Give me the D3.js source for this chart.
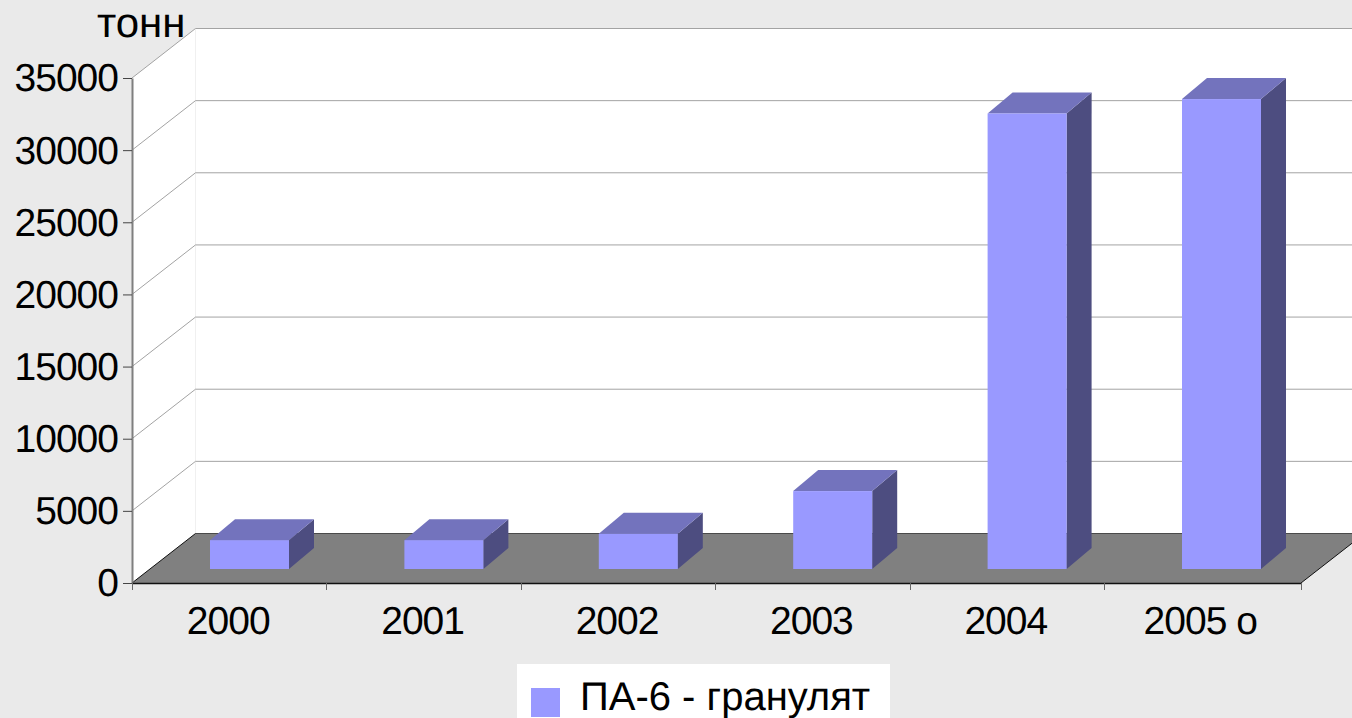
<!DOCTYPE html>
<html>
<head>
<meta charset="utf-8">
<script src="https://cdn.jsdelivr.net/npm/d3@7"></script>
<style>
  html, body { margin: 0; padding: 0; background: #eaeaea; overflow: hidden; }
  svg { display: block; font-family: "Liberation Sans", Arial, sans-serif; text-rendering: geometricPrecision; }
</style>
</head>
<body>
<svg id="chart" width="1352" height="718"></svg>
<script>
const years = ['2000', '2001', '2002', '2003', '2004', '2005 о'];
const tonnes = [2000, 2000, 2450, 5400, 31570, 32570];
const yTicks = [0, 5000, 10000, 15000, 20000, 25000, 30000, 35000];
const unitLabel = 'тонн';
const seriesName = 'ПА-6 - гранулят';

const width = 1352;
const height = 718;
const margin = {left: 132, right: 53.6, top: 78, bottom: 135};
const fontSize = 39;
const digitSpacing = '-1px';

// Depth of the 3D box and of the bars, in pixels
const box = {right: 1301, dx: 63.5, dy: -49.5};
const bar = {dx: 25, dy: -21, offsetX: 20.3, offsetY: -14, width: 79};

const colors = {
  background: '#eaeaea',
  wall: '#ffffff',
  grid: '#a3a3a3',
  floor: '#808080',
  axis: '#7f7f7f',
  face: '#9999ff',
  top: '#7373bd',
  side: '#4d4d80',
};

const svg = d3.select('#chart');

const xScale = d3.scaleBand()
  .domain(years)
  .range([margin.left, width - margin.right]);
const yScale = d3.scaleLinear()
  .domain([0, 35000])
  .range([height - margin.bottom, margin.top]);

const x0 = xScale.range()[0];
const x1 = box.right;
const y0 = yScale(0);
const yTop = yScale(35000);

const polygon = points => points.map(p => p.join(',')).join(' ');

// Walls
svg.append('polygon')
  .attr('fill', colors.wall)
  .attr('points', polygon([
    [x0, y0], [x0, yTop], [x0 + box.dx, yTop + box.dy],
    [x1 + box.dx, yTop + box.dy], [x1 + box.dx, y0 + box.dy], [x0 + box.dx, y0 + box.dy],
  ]));

svg.append('line')
  .attr('x1', x0 + box.dx).attr('x2', x0 + box.dx)
  .attr('y1', yTop + box.dy).attr('y2', y0 + box.dy)
  .attr('stroke', '#f0f0f0');

// Gridlines run along the side wall, then along the back wall
svg.append('g')
  .selectAll('polyline')
  .data(yTicks.slice(1))
  .join('polyline')
  .attr('fill', 'none')
  .attr('stroke', colors.grid)
  .attr('stroke-width', 1)
  .attr('points', d => polygon([
    [x0, yScale(d)],
    [x0 + box.dx, yScale(d) + box.dy],
    [x1 + box.dx, yScale(d) + box.dy],
  ]));

// Floor
svg.append('polygon')
  .attr('fill', colors.floor)
  .attr('points', polygon([
    [x0, y0], [x0 + box.dx, y0 + box.dy], [x1 + box.dx, y0 + box.dy], [x1, y0],
  ]));
svg.append('line')
  .attr('x1', x0 + box.dx).attr('x2', x1 + box.dx)
  .attr('y1', y0 + box.dy).attr('y2', y0 + box.dy)
  .attr('stroke', '#4a4a4a');
svg.append('line')
  .attr('x1', x0).attr('x2', x0 + box.dx)
  .attr('y1', y0).attr('y2', y0 + box.dy)
  .attr('stroke', '#111');
svg.append('line')
  .attr('x1', x1).attr('x2', x1 + box.dx)
  .attr('y1', y0).attr('y2', y0 + box.dy)
  .attr('stroke', '#111');

// Bars
const bars = svg.append('g')
  .selectAll('g')
  .data(years.map((year, i) => ({year, value: tonnes[i]})))
  .join('g')
  .attr('transform', d => {
    const left = xScale(d.year) + xScale.bandwidth() / 2 - bar.width / 2 + bar.offsetX;
    return `translate(${left},${bar.offsetY})`;
  });

bars.append('polygon')
  .attr('fill', colors.side)
  .attr('points', d => polygon([
    [bar.width, y0], [bar.width, yScale(d.value)],
    [bar.width + bar.dx, yScale(d.value) + bar.dy], [bar.width + bar.dx, y0 + bar.dy],
  ]));
bars.append('polygon')
  .attr('fill', colors.top)
  .attr('points', d => polygon([
    [0, yScale(d.value)], [bar.dx, yScale(d.value) + bar.dy],
    [bar.width + bar.dx, yScale(d.value) + bar.dy], [bar.width, yScale(d.value)],
  ]));
bars.append('rect')
  .attr('fill', colors.face)
  .attr('y', d => yScale(d.value))
  .attr('width', bar.width)
  .attr('height', d => y0 - yScale(d.value));

// Y axis
svg.append('g')
  .attr('transform', `translate(${x0},0)`)
  .call(d3.axisLeft(yScale).tickValues(yTicks).tickFormat(d3.format('d')).tickSize(9).tickSizeOuter(0))
  .call(g => g.select('.domain').attr('stroke', colors.axis).attr('stroke-width', 2))
  .call(g => g.selectAll('.tick line').attr('stroke', '#444'))
  .call(g => g.selectAll('.tick text')
    .attr('x', -14)
    .attr('dy', '0.33em')
    .attr('font-family', 'inherit')
    .attr('font-size', fontSize)
    .attr('letter-spacing', digitSpacing)
    .attr('fill', '#000'));

// X axis: labels from the band scale, ticks on the band edges
svg.append('g')
  .attr('transform', `translate(0,${y0})`)
  .call(d3.axisBottom(xScale).tickSize(0).tickSizeOuter(0))
  .call(g => g.select('.domain').attr('d', `M${x0},0.5H${x1}`).attr('stroke', '#111').attr('stroke-width', 1.5))
  .call(g => g.selectAll('.tick text')
    .attr('y', 51)
    .attr('dy', 0)
    .attr('dx', -1)
    .attr('font-family', 'inherit')
    .attr('font-size', fontSize)
    .attr('letter-spacing', digitSpacing)
    .attr('fill', '#000'));

svg.append('g')
  .selectAll('line')
  .data([...years.map(d => xScale(d)), x1])
  .join('line')
  .attr('x1', d => Math.round(d) + 0.5)
  .attr('x2', d => Math.round(d) + 0.5)
  .attr('y1', y0)
  .attr('y2', y0 + 7)
  .attr('stroke', '#666');

// Unit label
svg.append('text')
  .attr('x', 97)
  .attr('y', 37)
  .attr('font-size', 42)
  .text(unitLabel);

// Legend
const legend = svg.append('g').attr('transform', 'translate(517,664)');
legend.append('rect')
  .attr('fill', '#fff')
  .attr('width', 373)
  .attr('height', 54);
legend.append('rect')
  .attr('fill', colors.face)
  .attr('x', 14)
  .attr('y', 24)
  .attr('width', 29)
  .attr('height', 29);
legend.append('text')
  .attr('x', 63)
  .attr('y', 46)
  .attr('font-size', 40)
  .text(seriesName);
</script>
</body>
</html>
